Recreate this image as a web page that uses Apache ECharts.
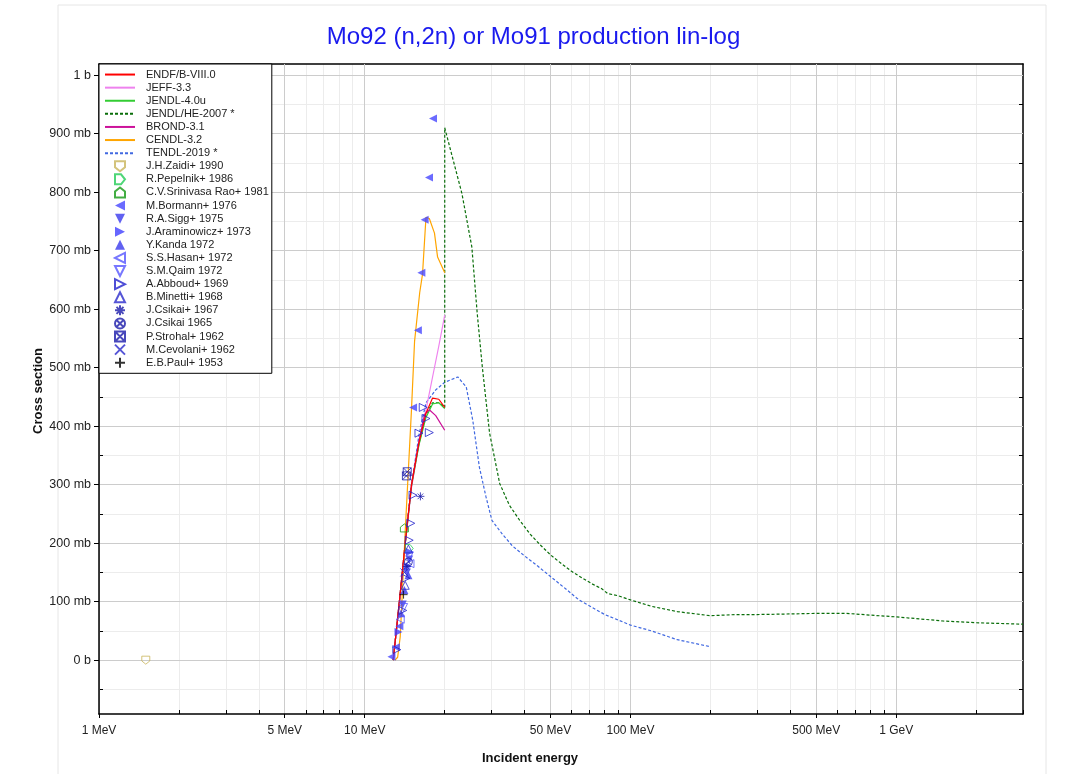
<!DOCTYPE html>
<html>
<head>
<meta charset="utf-8">
<title>Mo92 (n,2n)</title>
<script src="https://cdn.jsdelivr.net/npm/echarts/dist/echarts.min.js"></script>
<style>
  html, body { margin: 0; padding: 0; background: #fff; }
  #chart { width: 1067px; height: 774px; }
</style>
</head>
<body>
<div id="chart"></div>
<script>
// energies in MeV, cross sections in mb

// evaluated libraries
var endfE  = [12.8, 13.5, 14.2, 15.0, 16.0, 17.0, 18.0, 19.0, 20.0];
var endfXs = [0, 100, 200, 300, 372, 422, 448, 446, 432];
var jeffE  = [12.8, 13.5, 14.2, 15.0, 16.0, 17.0, 18.0, 19.0, 20.0];
var jeffXs = [0, 98, 198, 295, 370, 428, 484, 537, 590];
var jendlE  = [12.8, 13.5, 14.2, 15.0, 16.0, 17.0, 18.0, 19.0, 20.0];
var jendlXs = [0, 100, 198, 298, 368, 415, 438, 440, 430];
var jendlHeE  = [12.8, 13.5, 14.2, 15.0, 16.0, 17.0, 18.0, 19.0, 20.0, 20.0, 23.2, 25.3, 26.5, 27.7, 29.5, 32.2, 35, 38.3,
                 42, 46, 50, 55, 60, 66, 72, 78, 82, 90, 100, 120, 150, 200, 250, 300, 400, 500, 650, 800, 1000, 1500, 2000, 3000];
var jendlHeXs = [0, 100, 200, 300, 370, 420, 440, 440, 432, 910, 798, 706, 593, 501, 388, 302, 265, 239,
                 215, 196, 180, 165, 152, 140, 130, 122, 114, 110, 103, 92, 83, 76, 78, 78, 79, 80, 80, 77, 74, 67, 64, 61.5];
var brondE  = [12.8, 13.5, 14.2, 15.0, 16.0, 16.8, 17.5, 18.5, 20.0];
var brondXs = [0, 100, 200, 300, 375, 420, 428, 418, 393];
var cendlE  = [13.0, 13.3, 13.6, 13.9, 14.2, 14.5, 15.0, 15.4, 16.1, 16.5, 17.0, 17.5, 18.3, 18.8, 20.0];
var cendlXs = [0, 5, 40, 130, 220, 300, 430, 545, 628, 660, 757, 755, 730, 689, 662];
var tendlE  = [12.8, 13.5, 14.2, 15.0, 16.0, 17.0, 18.5, 20.0, 22.4, 24.1, 25.5, 27.0, 28.6, 30.1, 33, 36, 40, 45, 50, 57, 64, 80, 100, 120, 150, 200];
var tendlXs = [0, 100, 200, 300, 385, 440, 462, 475, 484, 467, 410, 330, 279, 239, 215, 195, 178, 160, 143, 122, 103, 78, 60, 50, 35, 23];

// measurements
var zaidiE = [1.5];          var zaidiXs = [0];
var pepelnikE = [14.7];      var pepelnikXs = [191];
var raoE = [14.1];           var raoXs = [226];
var bormannE = [12.6, 13.1, 13.5, 15.2, 15.85, 16.34, 16.8, 17.45, 18.07];
var bormannXs = [6, 22, 58, 432, 564, 662, 753, 825, 926];
var siggE = [13.9, 14.4, 14.7];        var siggXs = [95, 150, 172];
var araminowiczE = [13.4, 14.5, 14.8]; var araminowiczXs = [48, 160, 185];
var kandaE = [13.7, 14.1, 14.6];       var kandaXs = [80, 120, 145];
var hasanE = [13.6, 14.8];             var hasanXs = [70, 165];
var qaimE = [14.0, 14.7];              var qaimXs = [90, 178];
var abboudE = [13.2, 13.9, 14.3, 14.7, 14.9, 15.2, 16.0, 16.6, 17.0, 17.5];
var abboudXs = [18, 85, 140, 205, 234, 282, 388, 432, 413, 389];
var minettiE = [14.2, 14.6];           var minettiXs = [128, 190];
var csikai67E = [14.4, 16.2];          var csikai67Xs = [160, 280];
var csikai65E = [14.6];                var csikai65Xs = [168];
var strohalE = [14.35, 14.45];         var strohalXs = [315, 322];
var cevolaniE = [14.1];                var cevolaniXs = [150];
var paulE = [14.0];                    var paulXs = [112];

// axes
var xMin = 1, xMax = 3000;
var yMin = -92, yMax = 1019;
var xMajor = [1, 5, 10, 50, 100, 500, 1000];
var xMinor = [2, 3, 4, 6, 7, 8, 9, 20, 30, 40, 60, 70, 80, 90, 200, 300, 400, 600, 700, 800, 900, 2000, 3000];
var yMajor = [0, 100, 200, 300, 400, 500, 600, 700, 800, 900, 1000];
var yMinor = [-50, 50, 150, 250, 350, 450, 550, 650, 750, 850, 950];

var FONT = 'Liberation Sans, Arial, sans-serif';

function lg(v) { return Math.log10(v); }
function pts(es, vs) {
    return es.map(function (e, i) { return [lg(e), vs[i]]; });
}

function lineSeries(name, es, vs, color, dashed, z) {
    return {
        name: name, type: 'line', data: pts(es, vs),
        symbol: 'none', z: z, silent: true,
        lineStyle: { color: color, width: 1.2, type: dashed ? [3, 2] : 'solid' },
        itemStyle: { color: color }
    };
}

function pointSeries(name, es, vs, symbol, color, filled) {
    return {
        name: name, type: 'scatter', data: pts(es, vs),
        symbol: symbol, symbolSize: 8, symbolKeepAspect: true, z: 5,
        itemStyle: filled ? { color: color } :
            { color: 'rgba(255,255,255,0)', borderColor: color, borderWidth: 1 }
    };
}

var S = {
    shieldDown: 'path://M0,0 L10,0 L10,6 L5,10 L0,6 Z',
    penRight: 'path://M0,0 L6,0 L10,5 L6,10 L0,10 Z',
    penUp: 'path://M5,0 L10,4 L10,10 L0,10 L0,4 Z',
    triLeft: 'path://M0,5 L10,0 L10,10 Z',
    triDown: 'path://M0,0 L10,0 L5,10 Z',
    triRight: 'path://M0,0 L10,5 L0,10 Z',
    triUp: 'path://M5,0 L10,10 L0,10 Z',
    star: 'path://M5,0 L5,10 M0,5 L10,5 M1.5,1.5 L8.5,8.5 M8.5,1.5 L1.5,8.5',
    circX: 'path://M10,5 A5,5 0 1 1 0,5 A5,5 0 1 1 10,5 Z M1.5,1.5 L8.5,8.5 M8.5,1.5 L1.5,8.5',
    sqX: 'path://M0,0 L10,0 L10,10 L0,10 Z M0,0 L10,10 M10,0 L0,10',
    cross: 'path://M0,0 L10,10 M10,0 L0,10',
    plus: 'path://M5,0 L5,10 M0,5 L10,5'
};

var series = [
    lineSeries('TENDL-2019 *', tendlE, tendlXs, '#4169e1', true, 2),
    lineSeries('JENDL/HE-2007 *', jendlHeE, jendlHeXs, '#0a6e0a', true, 2),
    lineSeries('JEFF-3.3', jeffE, jeffXs, '#ee82ee', false, 3),
    lineSeries('JENDL-4.0u', jendlE, jendlXs, '#33cc33', false, 3),
    lineSeries('BROND-3.1', brondE, brondXs, '#cc1199', false, 3),
    lineSeries('CENDL-3.2', cendlE, cendlXs, '#ffa500', false, 3),
    lineSeries('ENDF/B-VIII.0', endfE, endfXs, '#ff0000', false, 4),
    pointSeries('J.H.Zaidi+ 1990', zaidiE, zaidiXs, S.shieldDown, '#c8b45a', false),
    pointSeries('R.Pepelnik+ 1986', pepelnikE, pepelnikXs, S.penRight, '#22cc55', false),
    pointSeries('C.V.Srinivasa Rao+ 1981', raoE, raoXs, S.penUp, '#149914', false),
    pointSeries('M.Bormann+ 1976', bormannE, bormannXs, S.triLeft, '#4646ff', true),
    pointSeries('R.A.Sigg+ 1975', siggE, siggXs, S.triDown, '#3a3aee', true),
    pointSeries('J.Araminowicz+ 1973', araminowiczE, araminowiczXs, S.triRight, '#4040ff', true),
    pointSeries('Y.Kanda 1972', kandaE, kandaXs, S.triUp, '#3a3aee', true),
    pointSeries('S.S.Hasan+ 1972', hasanE, hasanXs, S.triLeft, '#5555ff', false),
    pointSeries('S.M.Qaim 1972', qaimE, qaimXs, S.triDown, '#5555ff', false),
    pointSeries('A.Abboud+ 1969', abboudE, abboudXs, S.triRight, '#2222cc', false),
    pointSeries('B.Minetti+ 1968', minettiE, minettiXs, S.triUp, '#2a2acc', false),
    pointSeries('J.Csikai+ 1967', csikai67E, csikai67Xs, S.star, '#1a1aaa', false),
    pointSeries('J.Csikai 1965', csikai65E, csikai65Xs, S.circX, '#1a1aaa', false),
    pointSeries('P.Strohal+ 1962', strohalE, strohalXs, S.sqX, '#1a1aaa', false),
    pointSeries('M.Cevolani+ 1962', cevolaniE, cevolaniXs, S.cross, '#2a2acc', false),
    pointSeries('E.B.Paul+ 1953', paulE, paulXs, S.plus, '#000000', false)
];

var lineNames = ['ENDF/B-VIII.0', 'JEFF-3.3', 'JENDL-4.0u', 'JENDL/HE-2007 *', 'BROND-3.1', 'CENDL-3.2', 'TENDL-2019 *'];
var pointNames = ['J.H.Zaidi+ 1990', 'R.Pepelnik+ 1986', 'C.V.Srinivasa Rao+ 1981', 'M.Bormann+ 1976', 'R.A.Sigg+ 1975',
    'J.Araminowicz+ 1973', 'Y.Kanda 1972', 'S.S.Hasan+ 1972', 'S.M.Qaim 1972', 'A.Abboud+ 1969', 'B.Minetti+ 1968',
    'J.Csikai+ 1967', 'J.Csikai 1965', 'P.Strohal+ 1962', 'M.Cevolani+ 1962', 'E.B.Paul+ 1953'];

// line entries: hide the marker that the legend draws on the line
var legendData = lineNames.map(function (n) {
    return { name: n, itemStyle: { opacity: 0 } };
}).concat(pointNames.map(function (n) { return { name: n }; }));

function xLabel(v) {
    var e = Math.round(Math.pow(10, v));
    return e >= 1000 ? (e / 1000) + ' GeV' : e + ' MeV';
}
function yLabel(v) {
    if (v === 0) return '0 b';
    if (v === 1000) return '1 b';
    return v + ' mb';
}

var xAll = xMajor.concat(xMinor).map(lg);
var yAll = yMajor.concat(yMinor);

var xBase = { type: 'value', min: lg(xMin), max: lg(xMax), gridIndex: 0 };
var yBase = { type: 'value', min: yMin, max: yMax, gridIndex: 0 };

function ext(a, b) { return Object.assign({}, a, b); }

var chart = echarts.init(document.getElementById('chart'));
chart.setOption({
    animation: false,
    backgroundColor: '#fff',
    title: {
        text: 'Mo92 (n,2n) or Mo91 production lin-log',
        left: 'center', top: 20,
        textStyle: { color: '#1a1aee', fontSize: 24, fontWeight: 'normal', fontFamily: FONT }
    },
    grid: { left: 99, right: 44, top: 64, bottom: 60, containLabel: false },
    xAxis: [
        // minor grid + inside ticks
        ext(xBase, {
            position: 'bottom',
            axisLine: { show: false, onZero: false },
            axisTick: { show: true, inside: true, length: 4, customValues: xAll, lineStyle: { color: '#000' } },
            axisLabel: { show: false },
            splitLine: { show: true, lineStyle: { color: '#ececec', width: 1 } }
        }),
        // major grid, labels, outside ticks
        ext(xBase, {
            position: 'bottom', z: 1,
            axisLine: { show: true, onZero: false, lineStyle: { color: '#000', width: 1.5 } },
            axisTick: { show: true, inside: false, length: 4, customValues: xMajor.map(lg), lineStyle: { color: '#000' } },
            axisLabel: { show: true, customValues: xMajor.map(lg), formatter: xLabel, margin: 11,
                         color: '#222', fontSize: 12, fontFamily: FONT },
            splitLine: { show: true, lineStyle: { color: '#cccccc', width: 1 } }
        }),
        // top frame
        ext(xBase, {
            position: 'top',
            axisLine: { show: true, onZero: false, lineStyle: { color: '#000', width: 1.5 } },
            axisTick: { show: false },
            axisLabel: { show: false },
            splitLine: { show: false }
        })
    ],
    yAxis: [
        ext(yBase, {
            position: 'left',
            axisLine: { show: false, onZero: false },
            axisTick: { show: true, inside: true, length: 4, customValues: yMinor, lineStyle: { color: '#000' } },
            axisLabel: { show: false },
            splitLine: { show: true, lineStyle: { color: '#ececec', width: 1 } }
        }),
        ext(yBase, {
            position: 'left', z: 1,
            axisLine: { show: true, onZero: false, lineStyle: { color: '#000', width: 1.5 } },
            axisTick: { show: true, inside: false, length: 5, customValues: yMajor, lineStyle: { color: '#000' } },
            axisLabel: { show: true, customValues: yMajor, formatter: yLabel, margin: 8,
                         color: '#222', fontSize: 12.5, fontFamily: FONT },
            splitLine: { show: true, lineStyle: { color: '#cccccc', width: 1 } }
        }),
        ext(yBase, {
            position: 'right',
            axisLine: { show: true, onZero: false, lineStyle: { color: '#000', width: 1.5 } },
            axisTick: { show: true, inside: true, length: 4, customValues: yAll, lineStyle: { color: '#000' } },
            axisLabel: { show: false },
            splitLine: { show: false }
        })
    ],
    legend: {
        orient: 'vertical', left: 99, top: 64,
        padding: [4, 3, 4, 5],
        itemWidth: 30, itemHeight: 10, itemGap: 0,
        backgroundColor: '#fff', borderColor: '#000', borderWidth: 1, borderRadius: 0,
        textStyle: { fontSize: 11, fontFamily: FONT, color: '#222', lineHeight: 13.1, padding: [0, 0, 0, 6] },
        data: legendData
    },
    graphic: [
        {
            type: 'rect', silent: true, z: -10,
            shape: { x: 58, y: 5, width: 988, height: 780 },
            style: { fill: 'none', stroke: '#e6e6e6', lineWidth: 1 }
        },
        {
            type: 'text', left: 482, top: 752,
            style: { text: 'Incident energy', font: 'bold 13px ' + FONT, fill: '#111' }
        },
        {
            type: 'text', x: 38, y: 391, rotation: Math.PI / 2,
            style: { text: 'Cross section', font: 'bold 13px ' + FONT, fill: '#111',
                     textAlign: 'center', textVerticalAlign: 'middle' }
        }
    ],
    series: series
});
</script>
</body>
</html>
